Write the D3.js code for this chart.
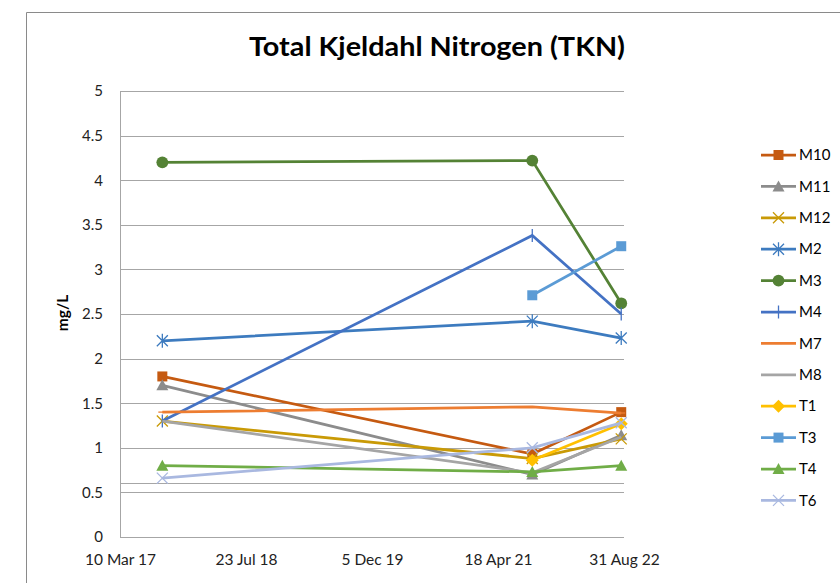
<!DOCTYPE html>
<html>
<head>
<meta charset="utf-8">
<script src="https://cdn.jsdelivr.net/npm/d3@7"></script>
<style>
  body { margin: 0; background: #fff; }
  svg { display: block; font-family: Lato, "Open Sans", sans-serif; }
</style>
</head>
<body>
<div id="chart"></div>
<script>

// sample dates and axis ticks
var sampleDates = ["2017-08-25", "2021-09-01", "2022-08-20"];
var tickDates = ["2017-03-10", "2018-07-23", "2019-12-05", "2021-04-18", "2022-08-31"];
var tickLabels = ["10 Mar 17", "23 Jul 18", "5 Dec 19", "18 Apr 21", "31 Aug 22"];
var yTicks = [0, 0.5, 1, 1.5, 2, 2.5, 3, 3.5, 4, 4.5, 5];
var refLines = [0.6];

// TKN (mg/L) per site, one value per sample date
var seriesNames = ["M10", "M11", "M12", "M2", "M3", "M4", "M7", "M8", "T1", "T3", "T4", "T6"];
var M10 = [1.8, 0.93, 1.4];
var M11 = [1.7, 0.7, 1.14];
var M12 = [1.3, 0.88, 1.1];
var M2 = [2.2, 2.42, 2.23];
var M3 = [4.2, 4.22, 2.62];
var M4 = [1.3, 3.38, 2.5];
var M7 = [1.4, 1.46, 1.39];
var M8 = [1.3, 0.72, 1.12];
var T1 = [null, 0.86, 1.27];
var T3 = [null, 2.71, 3.26];
var T4 = [0.8, 0.73, 0.8];
var T6 = [0.66, 1.0, 1.28];

var seriesValues = [M10, M11, M12, M2, M3, M4, M7, M8, T1, T3, T4, T6];

// styling per series
var styles = {
    M10: {color: "#C55A11", marker: "square"},
    M11: {color: "#8C8C8C", marker: "triangle"},
    M12: {color: "#C99A06", marker: "x"},
    M2:  {color: "#3D7BBF", marker: "asterisk"},
    M3:  {color: "#548235", marker: "circle"},
    M4:  {color: "#4472C4", marker: "plus"},
    M7:  {color: "#ED7D31", marker: "dash"},
    M8:  {color: "#A5A5A5", marker: "none"},
    T1:  {color: "#FFC000", marker: "diamond"},
    T3:  {color: "#5B9BD5", marker: "square"},
    T4:  {color: "#70AD47", marker: "triangle"},
    T6:  {color: "#A9B8E0", marker: "x"}
};

var W = 840, H = 583;
var margin = {top: 91, right: 216, bottom: 46, left: 120};
var width = W - margin.left - margin.right;
var height = H - margin.top - margin.bottom;

var parse = d3.timeParse("%Y-%m-%d");

var svg = d3.select("#chart").append("svg")
    .attr("width", W)
    .attr("height", H);

// chart border (left and top visible)
svg.append("path")
    .attr("d", "M26.5,583 V12.5 H840")
    .attr("fill", "none")
    .attr("stroke", "#8a8a8a")
    .attr("stroke-width", 1);

svg.append("text")
    .attr("x", 437)
    .attr("y", 56)
    .attr("text-anchor", "middle")
    .attr("font-size", 27)
    .attr("font-weight", "bold")
    .attr("fill", "#000")
    .attr("textLength", 376)
    .attr("lengthAdjust", "spacingAndGlyphs")
    .text("Total Kjeldahl Nitrogen (TKN)");

var g = svg.append("g")
    .attr("transform", "translate(" + margin.left + "," + margin.top + ")");

var x = d3.scaleTime()
    .domain([parse(tickDates[0]), parse(tickDates[tickDates.length - 1])])
    .range([0, width]);
var y = d3.scaleLinear().domain([0, 5]).range([height, 0]);

// gridlines
g.append("g").selectAll("line")
    .data(yTicks.concat(refLines))
    .enter().append("line")
    .attr("x1", 0).attr("x2", width)
    .attr("y1", function(d) { return Math.round(y(d)) + 0.5; })
    .attr("y2", function(d) { return Math.round(y(d)) + 0.5; })
    .attr("stroke", "#A6A6A6")
    .attr("stroke-width", 1);

g.append("line")
    .attr("x1", 0.5).attr("x2", 0.5)
    .attr("y1", 0).attr("y2", height)
    .attr("stroke", "#A6A6A6");

// y axis
var yAxis = g.append("g")
    .call(d3.axisLeft(y).tickValues(yTicks).tickSize(0).tickPadding(17).tickFormat(d3.format("")));
yAxis.select(".domain").remove();
yAxis.selectAll("text").attr("font-size", 15).attr("fill", "#222").attr("font-family", "Lato, sans-serif");

// x axis
var xAxis = g.append("g")
    .attr("transform", "translate(0," + height + ")")
    .call(d3.axisBottom(x).tickValues(tickDates.map(parse)).tickSize(0).tickPadding(17)
        .tickFormat(function(d, i) { return tickLabels[i]; }));
xAxis.select(".domain").remove();
xAxis.selectAll("text").attr("font-size", 15.5).attr("fill", "#222").attr("font-family", "Lato, sans-serif");

svg.append("text")
    .attr("transform", "translate(68,313) rotate(-90)")
    .attr("text-anchor", "middle")
    .attr("font-size", 15.5)
    .attr("font-weight", "bold")
    .text("mg/L");

// marker shapes
function markerPath(type) {
    var s = 5;
    switch (type) {
        case "square": return "M" + (-s) + "," + (-s) + "h" + 2 * s + "v" + 2 * s + "h" + (-2 * s) + "Z";
        case "triangle": return "M0,-6L6,5L-6,5Z";
        case "diamond": return "M0,-6.5L6.5,0L0,6.5L-6.5,0Z";
        case "circle": return d3.symbol().type(d3.symbolCircle).size(110)();
        case "x": return "M-5.5,-5.5L5.5,5.5M-5.5,5.5L5.5,-5.5";
        case "plus": return "M0,-6.5V6.5";
        case "asterisk": return "M-5.5,-5.5L5.5,5.5M-5.5,5.5L5.5,-5.5M0,-7V7";
        case "dash": return "M-4,0H4";
    }
    return null;
}
function isFilled(type) {
    return type == "square" || type == "triangle" || type == "diamond" || type == "circle";
}

var line = d3.line()
    .defined(function(d) { return d.v != null; })
    .x(function(d) { return x(d.date); })
    .y(function(d) { return y(d.v); });

var series = seriesNames.map(function(name, i) {
    return {
        name: name,
        style: styles[name],
        points: seriesValues[i].map(function(v, j) { return {date: parse(sampleDates[j]), v: v}; })
    };
});

var sg = g.selectAll(".series")
    .data(series)
    .enter().append("g")
    .attr("class", "series");

sg.append("path")
    .attr("d", function(d) { return line(d.points); })
    .attr("fill", "none")
    .attr("stroke", function(d) { return d.style.color; })
    .attr("stroke-width", 2.75);

sg.each(function(s) {
    if (s.style.marker == "none") return;
    d3.select(this).selectAll(".mark")
        .data(s.points.filter(function(p) { return p.v != null; }))
        .enter().append("path")
        .attr("transform", function(p) { return "translate(" + x(p.date) + "," + y(p.v) + ")"; })
        .attr("d", markerPath(s.style.marker))
        .attr("fill", isFilled(s.style.marker) ? s.style.color : "none")
        .attr("stroke", s.style.color)
        .attr("stroke-width", isFilled(s.style.marker) ? 0 : 1.3);
});

// legend
var legend = svg.append("g").attr("transform", "translate(761,155)");
var item = legend.selectAll(".item")
    .data(series)
    .enter().append("g")
    .attr("transform", function(d, i) { return "translate(0," + (i * 31.4) + ")"; });

item.append("line")
    .attr("x1", 0).attr("x2", 35)
    .attr("stroke", function(d) { return d.style.color; })
    .attr("stroke-width", 2.75);
item.filter(function(d) { return d.style.marker != "none"; })
    .append("path")
    .attr("transform", "translate(17.5,0)")
    .attr("d", function(d) { return markerPath(d.style.marker); })
    .attr("fill", function(d) { return isFilled(d.style.marker) ? d.style.color : "none"; })
    .attr("stroke", function(d) { return d.style.color; })
    .attr("stroke-width", function(d) { return isFilled(d.style.marker) ? 0 : 1.3; });
item.append("text")
    .attr("x", 38)
    .attr("dy", "0.35em")
    .attr("font-size", 15)
    .attr("fill", "#000")
    .text(function(d) { return d.name; });

</script>
</body>
</html>
